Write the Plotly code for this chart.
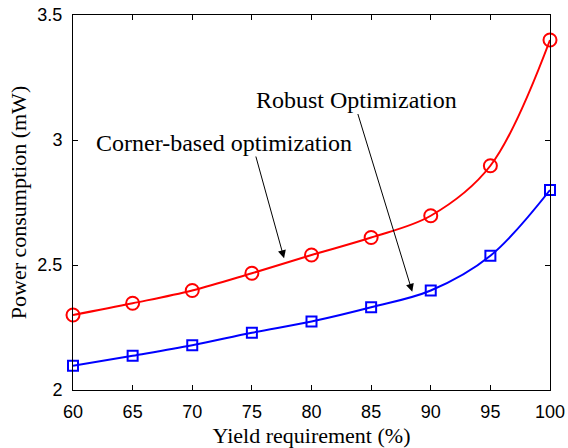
import plotly.graph_objects as go

# Yield requirement (%) on the horizontal axis
yield_req = [60, 65, 70, 75, 80, 85, 90, 95, 100]
# Power consumption (mW) for each optimisation approach
corner_power = [2.30, 2.347, 2.398, 2.467, 2.54, 2.61, 2.697, 2.897, 3.40]
robust_power = [2.097, 2.137, 2.179, 2.229, 2.274, 2.331, 2.398, 2.537, 2.80]

x_ticks = [60, 65, 70, 75, 80, 85, 90, 95, 100]
y_ticks = [2, 2.5, 3, 3.5]
y_tick_text = ["2", "2.5", "3", "3.5"]

serif = "Liberation Serif, Times New Roman, serif"
sans = "Liberation Sans, Arial, Helvetica, sans-serif"

fig = go.Figure()
fig.add_trace(go.Scatter(
    x=yield_req, y=corner_power, mode="lines+markers",
    line=dict(color="#ff0000", width=2, shape="spline", smoothing=1.0),
    marker=dict(symbol="circle-open", size=13, color="#ff0000",
                line=dict(width=2, color="#ff0000")),
    showlegend=False, cliponaxis=False,
))
fig.add_trace(go.Scatter(
    x=yield_req, y=robust_power, mode="lines+markers",
    line=dict(color="#0000ff", width=2, shape="spline", smoothing=1.0),
    marker=dict(symbol="square-open", size=10, color="#0000ff",
                line=dict(width=2, color="#0000ff")),
    showlegend=False, cliponaxis=False,
))

# Labels with pointer arrows
fig.add_annotation(x=72.7, y=2.99, text="Corner-based optimization",
                   showarrow=False, font=dict(family=serif, size=24, color="black"))
fig.add_annotation(x=77.7, y=2.527, ax=75.3, ay=2.94, axref="x", ayref="y",
                   text="", showarrow=True, arrowhead=2, arrowsize=1.6,
                   arrowwidth=1, arrowcolor="black")
fig.add_annotation(x=83.8, y=3.16, text="Robust Optimization",
                   showarrow=False, font=dict(family=serif, size=24, color="black"))
fig.add_annotation(x=88.45, y=2.393, ax=83.85, ay=3.11, axref="x", ayref="y",
                   text="", showarrow=True, arrowhead=2, arrowsize=1.6,
                   arrowwidth=1, arrowcolor="black")

axis_common = dict(
    showgrid=False, zeroline=False, showline=True, linecolor="black",
    linewidth=1, mirror="ticks", ticks="inside", ticklen=5, tickwidth=1,
    tickcolor="black", tickfont=dict(family=sans, size=18, color="black"),
    automargin=False,
)
fig.update_xaxes(range=[60, 100], tickvals=x_ticks, ticklabelstandoff=5,
                 title=dict(text="Yield requirement (%)",
                            font=dict(family=serif, size=22, color="black"),
                            standoff=8),
                 **axis_common)
fig.update_yaxes(range=[2, 3.5], tickvals=y_ticks, ticktext=y_tick_text,
                 ticklabelstandoff=6,
                 title=dict(text="Power consumption (mW)",
                            font=dict(family=serif, size=22, color="black"),
                            standoff=4),
                 **axis_common)

fig.update_layout(
    width=568, height=448,
    margin=dict(l=73, r=18, t=15, b=58),
    paper_bgcolor="white", plot_bgcolor="white",
)

fig.write_html("out.html")
